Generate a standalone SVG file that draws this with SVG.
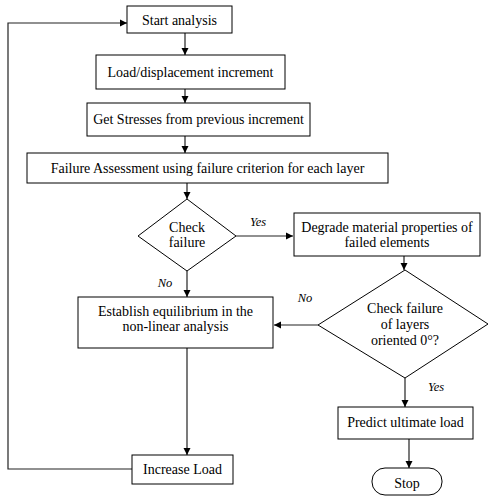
<svg xmlns="http://www.w3.org/2000/svg" width="488" height="497" viewBox="0 0 488 497">
<style>
.box{fill:#fff;stroke:#000;stroke-width:1}
.t{font-family:'Liberation Serif','Times New Roman',serif;font-size:14px;fill:#000;text-anchor:middle}
.lbl{font-family:'Liberation Serif','Times New Roman',serif;font-size:12.5px;font-style:italic;fill:#000;text-anchor:middle}
.c{fill:none;stroke:#222;stroke-width:1.2}
</style>
<defs>
<marker id="ah" markerUnits="userSpaceOnUse" markerWidth="8" markerHeight="8" refX="7" refY="4" orient="auto">
<path d="M0,0.5 L7,4 L0,7.5 Z" fill="#000"/>
</marker>
</defs>
<rect width="488" height="497" fill="#fff"/>
<g id="connectors">
<line class="c" x1="185" y1="33" x2="185" y2="55" marker-end="url(#ah)"/>
<line class="c" x1="185" y1="89" x2="185" y2="103" marker-end="url(#ah)"/>
<line class="c" x1="185" y1="136" x2="185" y2="153" marker-end="url(#ah)"/>
<line class="c" x1="187" y1="183" x2="187" y2="199" marker-end="url(#ah)"/>
<line class="c" x1="236" y1="236" x2="293" y2="236" marker-end="url(#ah)"/>
<line class="c" x1="404" y1="256" x2="404" y2="270" marker-end="url(#ah)"/>
<line class="c" x1="187" y1="271" x2="187" y2="297" marker-end="url(#ah)"/>
<line class="c" x1="318" y1="325" x2="274" y2="325" marker-end="url(#ah)"/>
<line class="c" x1="187" y1="348" x2="187" y2="455" marker-end="url(#ah)"/>
<polyline class="c" points="132,469 8,469 8,23 127,23" marker-end="url(#ah)"/>
<line class="c" x1="405" y1="378" x2="405" y2="407" marker-end="url(#ah)"/>
<line class="c" x1="409" y1="439" x2="409" y2="468" marker-end="url(#ah)"/>
<text class="lbl" x="258" y="226">Yes</text>
<text class="lbl" x="165" y="287">No</text>
<text class="lbl" x="305" y="302">No</text>
<text class="lbl" x="436" y="391">Yes</text>
</g>
<g id="start">
<rect class="box" x="127" y="6" width="105" height="27"/>
<text class="t" x="179.5" y="24.5">Start analysis</text>
</g>
<g id="load">
<rect class="box" x="96" y="55" width="189" height="34"/>
<text class="t" x="190.5" y="77">Load/displacement increment</text>
</g>
<g id="stresses">
<rect class="box" x="87" y="103" width="223" height="33"/>
<text class="t" x="198.5" y="124">Get Stresses from previous increment</text>
</g>
<g id="assessment">
<rect class="box" x="27" y="153" width="361" height="30"/>
<text class="t" x="207.5" y="173">Failure Assessment using failure criterion for each layer</text>
</g>
<g id="check1">
<polygon class="box" points="187,199 236,236 187,271 138,236"/>
<text class="t" x="187" y="232">Check</text>
<text class="t" x="187" y="247">failure</text>
</g>
<g id="degrade">
<rect class="box" x="294" y="213" width="186" height="43"/>
<text class="t" x="387" y="232">Degrade material properties of</text>
<text class="t" x="387" y="247">failed elements</text>
</g>
<g id="check2">
<polygon class="box" points="405,270 488,324 405,378 318,325"/>
<text class="t" x="405" y="313">Check failure</text>
<text class="t" x="405" y="328.5">of layers</text>
<text class="t" x="405" y="344.5">oriented 0°?</text>
</g>
<g id="equilibrium">
<rect class="box" x="78" y="297" width="195" height="51"/>
<text class="t" x="175.5" y="316">Establish equilibrium in the</text>
<text class="t" x="175.5" y="330.5">non-linear analysis</text>
</g>
<g id="increase">
<rect class="box" x="132" y="455" width="101" height="29"/>
<text class="t" x="182.5" y="474">Increase Load</text>
</g>
<g id="predict">
<rect class="box" x="338" y="407" width="135" height="32"/>
<text class="t" x="405.5" y="426.5">Predict ultimate load</text>
</g>
<g id="stop">
<rect class="box" x="372" y="468" width="70" height="27" rx="13" ry="13"/>
<text class="t" x="407" y="487.5">Stop</text>
</g>
</svg>
